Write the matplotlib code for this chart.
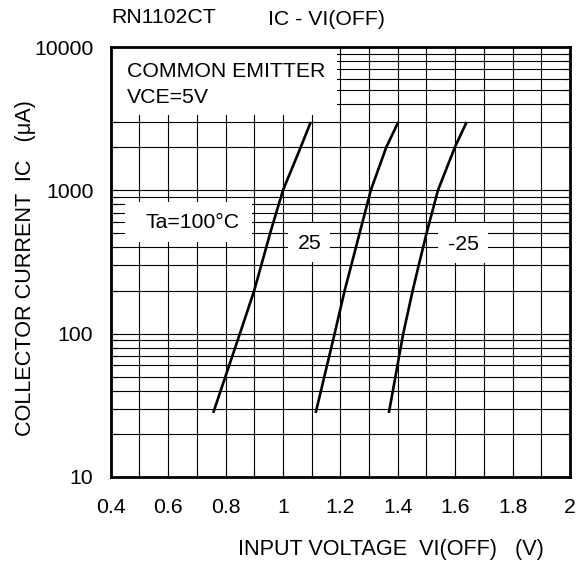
import numpy as np
import matplotlib
matplotlib.use("Agg")
import matplotlib.pyplot as plt
from matplotlib.patches import Rectangle
from matplotlib.ticker import FixedLocator, FixedFormatter

plt.rcParams['font.family'] = ['Liberation Sans', 'DejaVu Sans']

# ---- data ----
v_100 = [0.757, 0.783, 0.850, 0.900, 0.957, 1.000, 1.062, 1.097]
ic_100 = [28, 40, 100, 200, 515, 1000, 2000, 3000]

v_25 = [1.114, 1.180, 1.215, 1.238, 1.306, 1.360, 1.402]
ic_25 = [28, 100, 200, 300, 1000, 2000, 3000]

v_m25 = [1.369, 1.419, 1.452, 1.473, 1.500, 1.540, 1.599, 1.640]
ic_m25 = [28, 100, 200, 300, 500, 1000, 2000, 3000]

x_ticks = [0.4, 0.6, 0.8, 1.0, 1.2, 1.4, 1.6, 1.8, 2.0]
x_tick_labels = ["0.4", "0.6", "0.8", "1", "1.2", "1.4", "1.6", "1.8", "2"]
y_ticks = [10, 100, 1000, 10000]
y_tick_labels = ["10", "100", "1000", "10000"]

FS = 15.3
FS_LAB = 15.6

fig = plt.figure(figsize=(5.85, 5.63), dpi=100)
ax = fig.add_axes([110.7 / 585, 86 / 563, 459.3 / 585, 430 / 563])
ax.set_xscale('linear')
ax.set_yscale('log')
ax.set_xlim(0.4, 2.0)
ax.set_ylim(10, 10000)

# grid (drawn manually so that label boxes can sit above it)
x_minor = np.round(np.arange(0.5, 2.0, 0.1), 2)
y_minor = [m * d for d in (10, 100, 1000) for m in range(2, 10)]
for xv in x_minor:
    ax.axvline(xv, color='black', lw=0.8, zorder=1.5)
for yv in y_minor + [100, 1000]:
    ax.axhline(yv, color='black', lw=0.8, zorder=1.5)

# ticks
ax.xaxis.set_major_locator(FixedLocator(x_ticks))
ax.xaxis.set_major_formatter(FixedFormatter(x_tick_labels))
ax.xaxis.set_minor_locator(FixedLocator(list(x_minor)))
ax.yaxis.set_major_locator(FixedLocator(y_ticks))
ax.yaxis.set_major_formatter(FixedFormatter(y_tick_labels))
ax.yaxis.set_minor_locator(FixedLocator(y_minor))
ax.yaxis.set_minor_formatter(FixedFormatter([""] * len(y_minor)))
ax.tick_params(which='both', direction='in', top=True, right=True,
               length=5, width=0.8, colors='black')
ax.tick_params(axis='x', which='major', labelsize=FS, pad=15)
ax.tick_params(axis='y', which='major', labelsize=FS, pad=12.5)

for s in ax.spines.values():
    s.set_linewidth(2)
    s.set_zorder(5)

# white label boxes (axes coords)
boxes = [
    (0.0, 0.842, 0.493, 0.158),
    (0.031, 0.5465, 0.277, 0.093),
    (0.386, 0.50, 0.0915, 0.0907),
    (0.7126, 0.497, 0.109, 0.0944),
]
for (bx, by, bw, bh) in boxes:
    ax.add_patch(Rectangle((bx, by), bw, bh, transform=ax.transAxes,
                           facecolor='white', edgecolor='none', zorder=2))

# curves
for v, ic in ((v_100, ic_100), (v_25, ic_25), (v_m25, ic_m25)):
    ax.plot(v, ic, color='black', lw=1.9, zorder=3, solid_capstyle='butt',
            solid_joinstyle='round')

# in-plot texts
ax.text(0.0355, 0.931, "COMMON EMITTER", transform=ax.transAxes,
        fontsize=FS, ha='left', va='baseline', zorder=4)
ax.text(0.0355, 0.869, "VCE=5V", transform=ax.transAxes,
        fontsize=FS, ha='left', va='baseline', zorder=4)
ax.text(0.0747, 0.5784, "Ta=100°C", transform=ax.transAxes,
        fontsize=FS, ha='left', va='baseline', zorder=4)
ax.text(0.4078, 0.5295, "25", transform=ax.transAxes,
        fontsize=FS, ha='left', va='baseline', zorder=4)
ax.text(0.7344, 0.528, "-25", transform=ax.transAxes,
        fontsize=FS, ha='left', va='baseline', zorder=4)

# titles and axis labels
fig.text(111.7 / 585, (563 - 23.3) / 563, "RN1102CT", fontsize=FS,
         ha='left', va='baseline')
fig.text(268 / 585, (563 - 25) / 563, "IC - VI(OFF)", fontsize=FS,
         ha='left', va='baseline')
fig.text(238 / 585, (563 - 555) / 563, "INPUT VOLTAGE  VI(OFF)   (V)",
         fontsize=FS_LAB, ha='left', va='baseline')
fig.text(26 / 585, (563 - 268) / 563, "COLLECTOR CURRENT  IC   (μA)",
         fontsize=FS_LAB, ha='center', va='center', rotation=90)

fig.savefig("out.png", dpi=100)
